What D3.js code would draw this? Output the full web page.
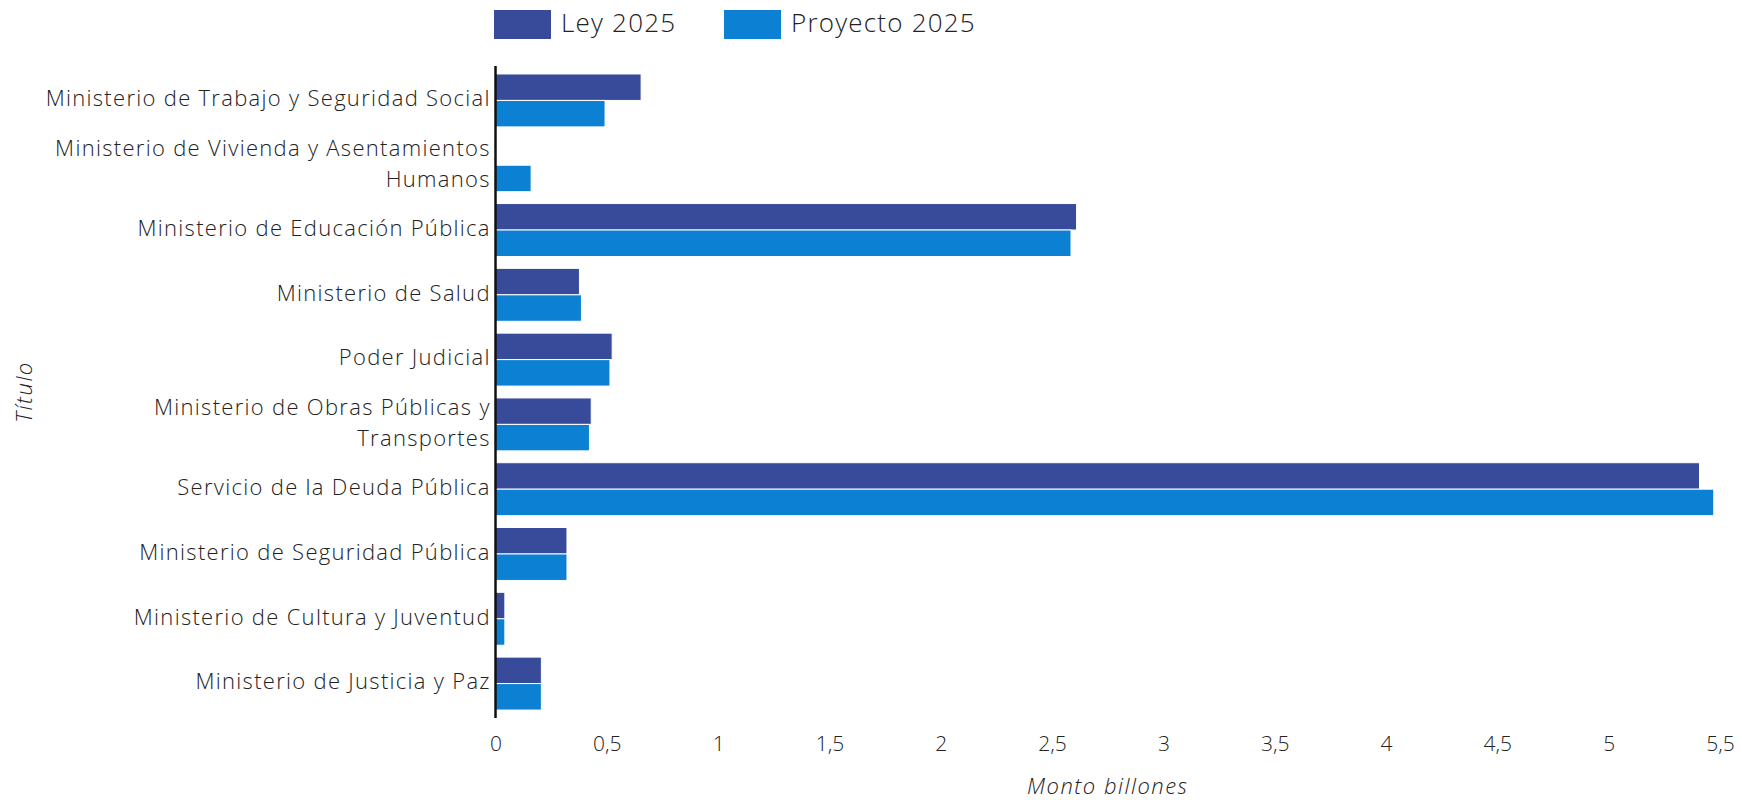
<!DOCTYPE html>
<html>
<head>
<meta charset="utf-8">
<script src="https://cdn.jsdelivr.net/npm/d3@7"></script>
<style>
  html, body { margin: 0; padding: 0; background: #fff; }
  svg text { font-family: "Open Sans", "Lato", sans-serif; fill: #222; }
</style>
</head>
<body>
<svg id="chart" width="1742" height="800"></svg>
<script>
const categories = [
  "Ministerio de Trabajo y Seguridad Social",
  "Ministerio de Vivienda y Asentamientos Humanos",
  "Ministerio de Educación Pública",
  "Ministerio de Salud",
  "Poder Judicial",
  "Ministerio de Obras Públicas y Transportes",
  "Servicio de la Deuda Pública",
  "Ministerio de Seguridad Pública",
  "Ministerio de Cultura y Juventud",
  "Ministerio de Justicia y Paz"
];
const labelLines = [
  ["Ministerio de Trabajo y Seguridad Social"],
  ["Ministerio de Vivienda y Asentamientos", "Humanos"],
  ["Ministerio de Educación Pública"],
  ["Ministerio de Salud"],
  ["Poder Judicial"],
  ["Ministerio de Obras Públicas y", "Transportes"],
  ["Servicio de la Deuda Pública"],
  ["Ministerio de Seguridad Pública"],
  ["Ministerio de Cultura y Juventud"],
  ["Ministerio de Justicia y Paz"]
];
const seriesNames = ["Ley 2025", "Proyecto 2025"];
const ley2025 =      [0.654, 0, 2.61, 0.377, 0.524, 0.430, 5.408, 0.321, 0.042, 0.206];
const proyecto2025 = [0.492, 0.16, 2.585, 0.386, 0.514, 0.422, 5.472, 0.321, 0.042, 0.206];
const xTicks = [0, 0.5, 1, 1.5, 2, 2.5, 3, 3.5, 4, 4.5, 5, 5.5];
const colors = ["#384b9b", "#0c80d2"];

const svg = d3.select("#chart");
const mLeft = 495.5, mRight = 1720, mTop = 66, mBottom = 718;

const x = d3.scaleLinear().domain([0, 5.5]).range([mLeft, mRight]);
const y = d3.scaleBand().domain(categories).range([mTop, mBottom])
  .paddingInner(0.183).paddingOuter(0.123);
const ySub = d3.scaleBand().domain(seriesNames).range([0, y.bandwidth()]);

const data = categories.map((c, i) => ({ cat: c, values: [ley2025[i], proyecto2025[i]] }));

const groups = svg.append("g").selectAll("g").data(data).join("g")
  .attr("transform", d => `translate(0,${y(d.cat)})`);
groups.selectAll("rect")
  .data(d => d.values.map((v, j) => ({ v, s: seriesNames[j], j })).filter(e => e.v > 0))
  .join("rect")
  .attr("x", x(0))
  .attr("y", e => ySub(e.s))
  .attr("width", e => x(e.v) - x(0))
  .attr("height", ySub.bandwidth())
  .attr("fill", e => colors[e.j])
  .attr("stroke", "#fff")
  .attr("stroke-width", 1);

// x axis (labels only)
const xAxis = d3.axisBottom(x).tickValues(xTicks).tickSize(0).tickPadding(0)
  .tickFormat(d => String(d).replace(".", ","));
const gx = svg.append("g").attr("transform", `translate(0,${mBottom})`).call(xAxis);
gx.select(".domain").remove();
gx.selectAll("text").attr("font-size", 21).attr("dy", null).attr("y", 27)
  .attr("dominant-baseline", "middle").style("font-family", "Open Sans").style("font-weight", 300).style("fill", "#222");

// y axis
const yAxis = d3.axisLeft(y).tickSize(0).tickFormat("");
const gy = svg.append("g").attr("transform", `translate(${mLeft},0)`).call(yAxis);
gy.select(".domain").attr("stroke", "#111").attr("stroke-width", 2.5)
  .attr("d", `M0,${mTop}V${mBottom}`);

const ls = 1.3;
const labels = svg.append("g").selectAll("text").data(categories).join("text")
  .attr("text-anchor", "end")
  .attr("font-size", 22)
  .attr("font-weight", 300)
  .attr("letter-spacing", ls)
  .attr("x", mLeft - 6 + ls)
  .attr("y", d => y(d) + y.bandwidth() / 2);
labels.each(function(d, i) {
  const lines = labelLines[i];
  const t = d3.select(this);
  const spacing = 31;
  lines.forEach((ln, k) => {
    t.append("tspan").attr("x", mLeft - 6 + ls)
      .attr("y", y(d) + y.bandwidth() / 2 + (k - (lines.length - 1) / 2) * spacing)
      .attr("dominant-baseline", "middle")
      .text(ln);
  });
});

// axis titles
svg.append("text").attr("x", (mLeft + mRight) / 2).attr("y", 788)
  .attr("text-anchor", "middle").attr("dominant-baseline", "middle")
  .attr("font-size", 22).attr("font-weight", 300).attr("font-style", "italic")
  .attr("letter-spacing", 1.5).text("Monto billones");
svg.append("text").attr("transform", `translate(26,${(mTop + mBottom) / 2}) rotate(-90)`)
  .attr("text-anchor", "middle").attr("dominant-baseline", "middle")
  .attr("font-size", 22).attr("font-weight", 300).attr("font-style", "italic")
  .attr("letter-spacing", 1.5).text("Título");

// legend
const legendItems = [{ name: seriesNames[0], x: 494 }, { name: seriesNames[1], x: 724 }];
const lg = svg.append("g").selectAll("g").data(legendItems).join("g")
  .attr("transform", d => `translate(${d.x},10)`);
lg.append("rect").attr("width", 57).attr("height", 29).attr("fill", (d, i) => colors[i]);
lg.append("text").attr("x", 67).attr("y", 15).attr("dominant-baseline", "middle")
  .attr("font-size", 26).attr("font-weight", 300).attr("letter-spacing", 1.2).text(d => d.name);
</script>
</body>
</html>
